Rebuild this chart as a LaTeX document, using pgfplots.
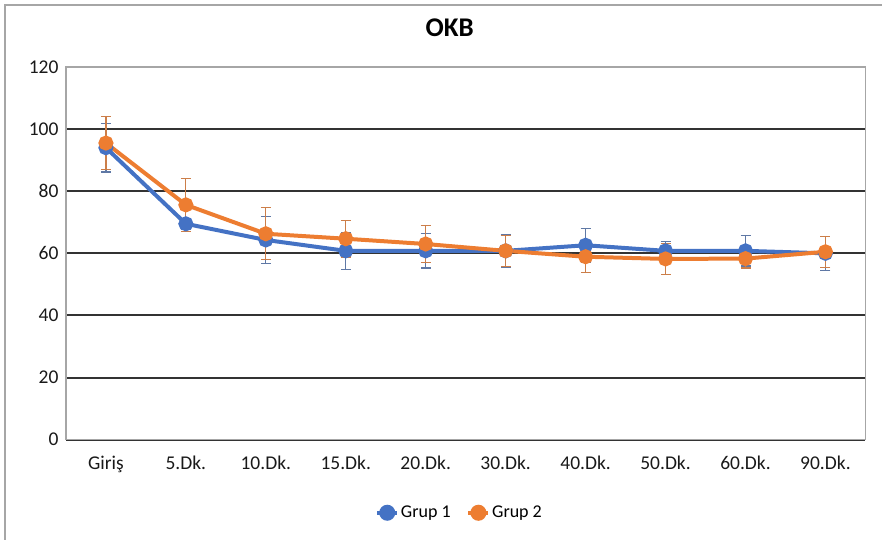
\documentclass[border=0pt]{standalone}
\usepackage{pgfplots}
\pgfplotsset{compat=1.18}
\usepackage{pgfplotstable}
\usepackage{fontspec}
\setmainfont{Carlito}
\definecolor{gblue}{HTML}{4472C4}
\definecolor{gorange}{HTML}{ED7D31}
\pgfplotstableread{
x y1 e1 y2 e2
0 94.0 7.8 95.5 8.6
1 69.5 1.8 75.6 8.6
2 64.3 7.6 66.3 8.4
3 60.8 5.9 64.7 5.9
4 60.8 5.5 63.0 6.0
5 60.8 5.3 60.8 5.0
6 62.6 5.5 58.9 5.0
7 60.8 3.0 58.2 5.0
8 60.8 4.9 58.3 3.0
9 60.0 5.5 60.5 5.0
}\datatable
\begin{document}
\begin{tikzpicture}[x=1pt,y=1pt]
\path (0,0) rectangle (883,540);
\draw[gray!70, line width=1.2pt] (5,0) -- (5,535) -- (883,535);
\node[font=\bfseries\fontsize{27}{30}\selectfont] at (450,512) {OKB};
\begin{axis}[
  at={(66pt,100pt)}, anchor=south west,
  scale only axis, width=800pt, height=373pt,
  xmin=-0.5, xmax=9.5, ymin=0, ymax=120,
  ytick={0,20,...,120},
  xtick={0,...,9},
  xticklabels={Giriş,5.Dk.,10.Dk.,15.Dk.,20.Dk.,30.Dk.,40.Dk.,50.Dk.,60.Dk.,90.Dk.},
  major tick length=0pt,
  ymajorgrids,
  grid style={black!80, line width=2pt},
  axis line style={gray!70, line width=1.5pt},
  tick label style={font=\fontsize{19.5}{21}\selectfont, text=black!90},
  yticklabel style={xshift=-4pt},
  xticklabel style={yshift=-13pt},
  /pgf/number format/assume math mode=true,
  legend columns=2,
  legend style={at={(0.4925,-0.196)}, anchor=center, draw=none, font=\fontsize{18}{20}\selectfont, /tikz/every even column/.append style={column sep=14pt}},
  legend image code/.code={\draw[#1, line width=3.5pt] (0pt,0pt) -- (20pt,0pt); \draw[#1, mark=*, mark size=6pt, mark options={solid}] plot coordinates {(10pt,0pt)};},
  clip=false,
]
\addplot[gblue, line width=4pt, mark=*, mark size=5.5pt,
  error bars/.cd, y dir=both, y explicit,
  error bar style={line width=1.2pt, gblue!55!gray},
  error mark options={rotate=90, mark size=5pt, line width=1.2pt, gblue!55!gray}]
  table[x=x, y=y1, y error=e1] {\datatable};
\addlegendentry{Grup 1}
\addplot[gorange, line width=4pt, mark=*, mark size=5.5pt,
  error bars/.cd, y dir=both, y explicit,
  error bar style={line width=1.2pt, gorange!70!gray},
  error mark options={rotate=90, mark size=5pt, line width=1.2pt, gorange!70!gray}]
  table[x=x, y=y2, y error=e2] {\datatable};
\addlegendentry{Grup 2}
\end{axis}
\end{tikzpicture}
\end{document}
